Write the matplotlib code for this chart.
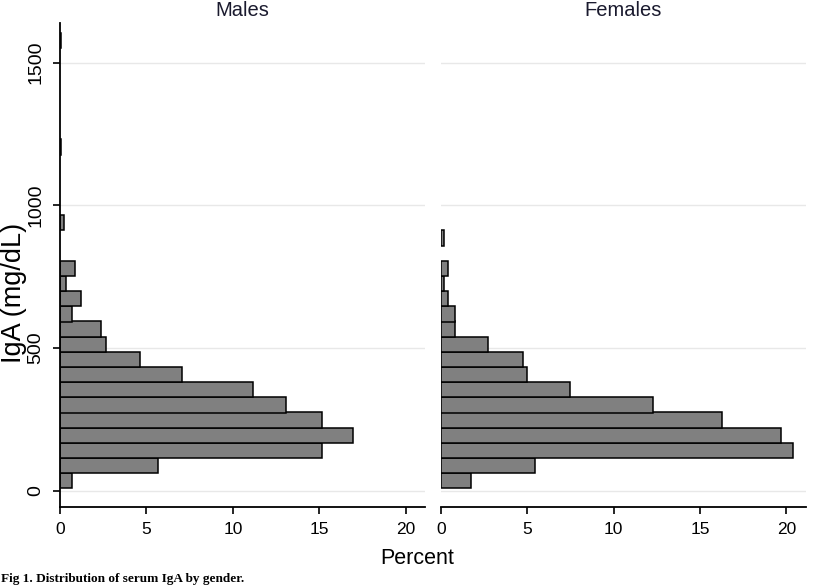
import numpy as np
import matplotlib
matplotlib.use("Agg")
import matplotlib.pyplot as plt

# histogram bins: lower edges of the non-empty bins (mg/dL), common width
bin_lower = [8, 61, 114, 168, 221, 274, 327, 380, 434, 487, 540, 593, 646, 700, 753,
             859, 912, 1178, 1551]
bin_width = 53.2

# percent per bin
males_pct = [0.71, 5.65, 15.15, 16.98, 15.15, 13.1, 11.15, 7.04, 4.65, 2.69, 2.35,
             0.71, 1.19, 0.37, 0.88, 0.0, 0.23, 0.08, 0.08]
females_pct = [1.71, 5.42, 20.38, 19.7, 16.25, 12.3, 7.48, 5.0, 4.77, 2.71, 0.81,
               0.81, 0.42, 0.15, 0.42, 0.17, 0.0, 0.0, 0.0]

panels = ["Males", "Females"]
y_ticks = [0, 500, 1000, 1500]
x_ticks = [0, 5, 10, 15, 20]

plt.rcParams['font.family'] = ['Liberation Sans', 'DejaVu Sans']

W, H = 819, 586
fig = plt.figure(figsize=(W / 100, H / 100), dpi=100)

def frac(x0, y0, x1, y1):
    return [x0 / W, 1 - y1 / H, (x1 - x0) / W, (y1 - y0) / H]

ax_m = fig.add_axes(frac(60, 23, 425, 507))
ax_f = fig.add_axes(frac(441, 23, 805.7, 507))

edges = np.array(bin_lower)
for ax, name, pct in zip([ax_m, ax_f], panels, [males_pct, females_pct]):
    pct = np.array(pct)
    keep = pct > 0  # empty bins draw nothing
    for y in y_ticks:
        ax.axhline(y, color='#e8e8e8', lw=1.0, zorder=0)
    ax.barh(edges[keep], pct[keep], height=bin_width, align='edge',
            color='#808080', edgecolor='black', linewidth=1.1, zorder=2)
    ax.set_xlim(0, 21.12)
    ax.set_ylim(-57, 1639)
    ax.set_xticks(x_ticks)
    ax.tick_params(axis='x', length=5, width=1.2, pad=6, labelsize=12.5)
    ax.spines['top'].set_visible(False)
    ax.spines['right'].set_visible(False)
    ax.spines['bottom'].set_linewidth(1.3)
    ax.spines['left'].set_linewidth(1.3)
    cx = (ax.get_position().x0 + ax.get_position().x1) / 2
    fig.text(cx, 1 - 1 / H, name, ha='center', va='top', fontsize=14.5, color='#1a1a2e')

ax_m.set_yticks(y_ticks)
ax_m.set_yticklabels([str(v) for v in y_ticks], rotation=90, va='center')
ax_m.tick_params(axis='y', length=5, width=1.2, pad=6, labelsize=14)

ax_f.spines['left'].set_visible(False)
ax_f.set_yticks([])

fig.text(14 / W, 1 - 293 / H, "IgA (mg/dL)", rotation=90, ha='center', va='center',
         fontsize=19.5)
fig.text(417 / W, 1 - 558 / H, "Percent", ha='center', va='center', fontsize=15.5)
fig.text(1 / W, 1 - 579 / H, "Fig 1. Distribution of serum IgA by gender.",
         family='Liberation Serif', fontweight='bold', fontsize=9.5,
         ha='left', va='center')

fig.savefig("out.png", dpi=100)
